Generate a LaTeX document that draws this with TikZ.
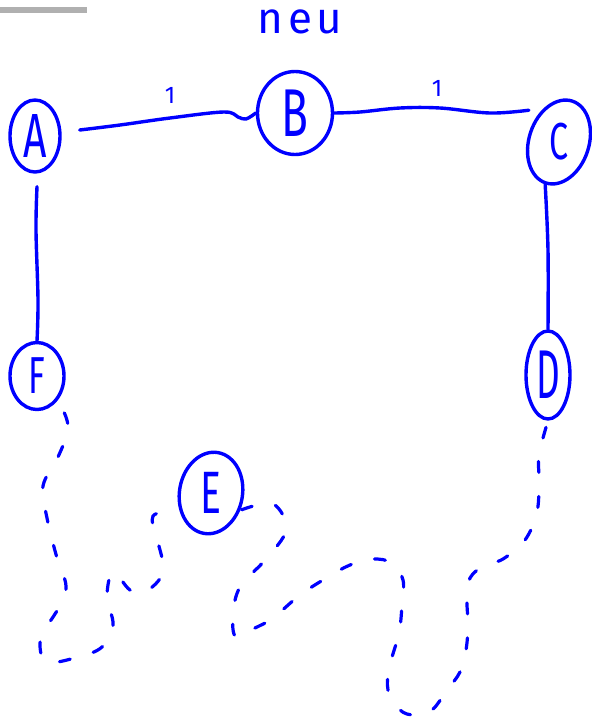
\documentclass[tikz,border=0pt]{standalone}
\usepackage{fontspec}
\setmainfont{Fira Sans}
\usetikzlibrary{shapes.geometric}
\definecolor{pen}{RGB}{0,0,255}
\definecolor{rulegray}{RGB}{176,176,176}
\newcommand{\tall}[1]{\scalebox{0.85}[1.3]{#1}}
\begin{document}
\begin{tikzpicture}[x=1pt,y=-1pt,
  vtx/.style={draw=pen, line width=3.4pt, ellipse, inner sep=0pt, text=pen},
  edgeline/.style={draw=pen, line width=3.4pt, line cap=round, line join=round},
  dashline/.style={draw=pen, line width=3.2pt, line cap=round, dash pattern=on 11pt off 24pt},
  lbl/.style={text=pen, inner sep=0pt}
]
\useasboundingbox (0,0) rectangle (592,721);
\draw[line width=6pt, rulegray] (0,10) -- (87,10);

\node[lbl, font=\fontsize{44}{44}\selectfont\addfontfeatures{LetterSpace=10}] (title) at (300,22) {neu};

\node[vtx, minimum width=50pt, minimum height=72pt, font=\fontsize{48}{48}\selectfont] (A) at (35,136) {\tall{A}};
\node[vtx, minimum width=75pt, minimum height=83pt, font=\fontsize{52}{52}\selectfont] (B) at (295,113) {\tall{B}};
\node[vtx, minimum width=60pt, minimum height=86pt, rotate=-18, font=\fontsize{40}{40}\selectfont] (C) at (559,142) {\rotatebox{18}{\tall{C}}};
\node[vtx, minimum width=54pt, minimum height=67pt, font=\fontsize{40}{40}\selectfont] (F) at (37,376) {\tall{F}};
\node[vtx, minimum width=44pt, minimum height=88pt, font=\fontsize{46}{46}\selectfont] (D) at (548,375) {\scalebox{0.8}[1.5]{D}};
\node[vtx, minimum width=63pt, minimum height=82pt, rotate=-10, font=\fontsize{46}{46}\selectfont] (E) at (211,493) {\rotatebox{10}{\tall{E}}};

\node[lbl, font=\fontsize{24}{24}\selectfont] (w1) at (170,95) {1};
\node[lbl, font=\fontsize{24}{24}\selectfont] (w2) at (437,88) {1};

% solid edges
\draw[edgeline] plot[smooth, tension=0.6] coordinates {([shift={(18,-6)}]A.east) (120,125) (170,118) (224,112) (238,117) (246,119) (B.west)};
\draw[edgeline] plot[smooth, tension=0.6] coordinates {(B.east) (360,112) (400,108) (440,108) (490,113) ([shift={(0,-22)}]C.west)};
\draw[edgeline] plot[smooth, tension=0.6] coordinates {([shift={(2,13)}]A.south) (36,230) (38,300) (F.north)};
\draw[edgeline] plot[smooth, tension=0.6] coordinates {(C.south) (548,250) (D.north)};

% dashed paths
\draw[dashline] plot[smooth, tension=0.6] coordinates {([shift={(7,12)}]F.south east) (68,430) (58,457) (43,486) (47,518) (57,558) (66,586) (59,607) (48,625) (40,643) (47,662) (78,657) (102,647) (113,625) (107,597) (113,572) (130,590) (145,592) (163,572) (157,538) (153,516) (175,510)};
\draw[dashline] plot[smooth, tension=0.6] coordinates {([shift={(-2,11)}]E.east) (273,504) (286,530) (265,560) (240,587) (233,615) (236,637) (255,628) (273,618) (300,595) (328,577) (350,565) (372,559) (392,563) (403,580) (402,605) (399,633) (390,665) (388,690) (400,710) (415,715) (432,710) (447,690) (460,672) (466,650) (468,625) (467,600) (470,578) (485,565) (503,559) (525,540) (537,512) (539,480) (539,455) (D.south)};
\end{tikzpicture}
\end{document}
